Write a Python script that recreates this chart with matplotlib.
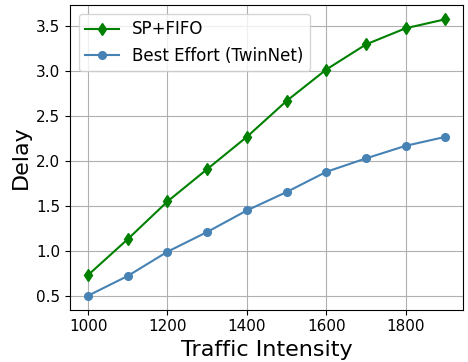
import numpy as np
import matplotlib
matplotlib.use('Agg')
import matplotlib.pyplot as plt

traffic = [1000, 1100, 1200, 1300, 1400, 1500, 1600, 1700, 1800, 1900]
sp_fifo = [0.73, 1.13, 1.55, 1.91, 2.27, 2.67, 3.02, 3.30, 3.48, 3.58]
best_effort = [0.50, 0.72, 0.99, 1.21, 1.45, 1.655, 1.88, 2.03, 2.17, 2.27]

fig, ax = plt.subplots(figsize=(4.68, 3.62), dpi=100)
ax.plot(traffic, sp_fifo, color='green', marker='d', markersize=6.5, label='SP+FIFO')
ax.plot(traffic, best_effort, color='steelblue', marker='o', markersize=5.5,
        label='Best Effort (TwinNet)')
ax.set_xlabel('Traffic Intensity', fontsize=16)
ax.set_ylabel('Delay', fontsize=16)
ax.set_xticks([1000, 1200, 1400, 1600, 1800])
ax.set_yticks([0.5, 1.0, 1.5, 2.0, 2.5, 3.0, 3.5])
ax.tick_params(labelsize=11)
ax.grid(True)
ax.legend(fontsize=12, loc='upper left')
plt.subplots_adjust(left=0.15, right=0.99, top=0.985, bottom=0.145)
plt.savefig('out.png')
